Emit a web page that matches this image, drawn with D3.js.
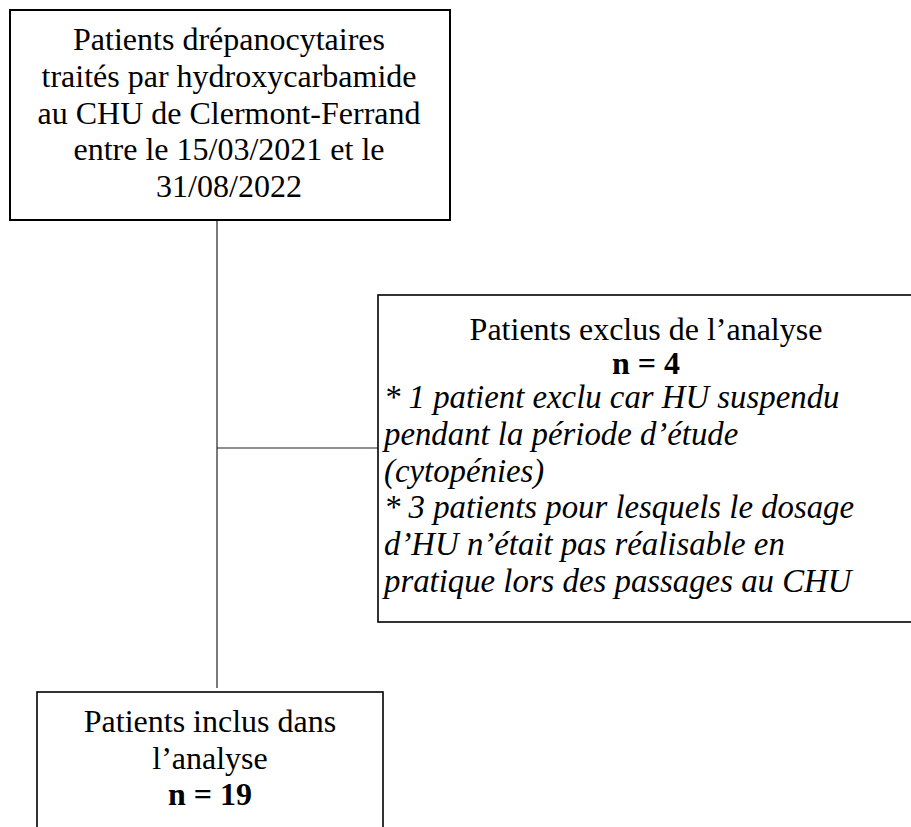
<!DOCTYPE html>
<html>
<head>
<meta charset="utf-8">
<script src="https://cdn.jsdelivr.net/npm/d3@7"></script>
<style>
  body { margin: 0; background: #fff; }
  svg { display: block; }
</style>
</head>
<body>
<svg width="911" height="827"></svg>
<script>
// texts of the three boxes
const topLines = [
  'Patients drépanocytaires',
  'traités par hydroxycarbamide',
  'au CHU de Clermont-Ferrand',
  'entre le 15/03/2021 et le',
  '31/08/2022'
];
const excludedTitle = 'Patients exclus de l\u2019analyse';
const excludedCount = 'n = 4';
const excludedReasons = [
  '* 1 patient exclu car HU suspendu',
  'pendant la période d\u2019étude',
  '(cytopénies)',
  '* 3 patients pour lesquels le dosage',
  'd\u2019HU n\u2019était pas réalisable en',
  'pratique lors des passages au CHU'
];
const includedLines = ['Patients inclus dans', 'l\u2019analyse'];
const includedCount = 'n = 19';

const fontFam = '"Liberation Serif", "Times New Roman", serif';
const fs = 32;
const lh = 36.8;

var svg = d3.select('svg');

function box(x0, y0, x1, y1, sw) {
  svg.append('rect')
    .attr('x', x0).attr('y', y0)
    .attr('width', x1 - x0).attr('height', y1 - y0)
    .attr('fill', 'none')
    .attr('stroke', '#000')
    .attr('stroke-width', sw);
}

function line(x1, y1, x2, y2) {
  svg.append('line')
    .attr('x1', x1).attr('y1', y1).attr('x2', x2).attr('y2', y2)
    .attr('stroke', '#222')
    .attr('stroke-width', 1.2);
}

function txt(x, y, s, anchor, style, weight, size) {
  svg.append('text')
    .attr('x', x).attr('y', y)
    .attr('text-anchor', anchor)
    .attr('font-family', fontFam)
    .attr('font-size', (size || fs) + 'px')
    .attr('font-style', style || 'normal')
    .attr('font-weight', weight || 'normal')
    .attr('fill', '#000')
    .text(s);
}

// connectors
line(217, 221, 217, 688);
line(217, 448, 378, 448);

// top box
box(10, 10, 450, 220, 2);
topLines.forEach((s, i) => txt(229, 50 + i * lh, s, 'middle'));

// excluded box (runs past the right edge)
box(378, 295, 916, 622, 1.6);
txt(646, 340, excludedTitle, 'middle');
txt(646, 374, excludedCount, 'middle', 'normal', 'bold');
excludedReasons.forEach((s, i) => txt(384, 408 + i * lh, s, 'start', 'italic', 'normal', 32.8));

// included box (runs past the bottom edge)
box(37, 692, 383, 840, 1.6);
includedLines.forEach((s, i) => txt(210, 732 + i * lh, s, 'middle'));
txt(210, 805, includedCount, 'middle', 'normal', 'bold');
</script>
</body>
</html>
